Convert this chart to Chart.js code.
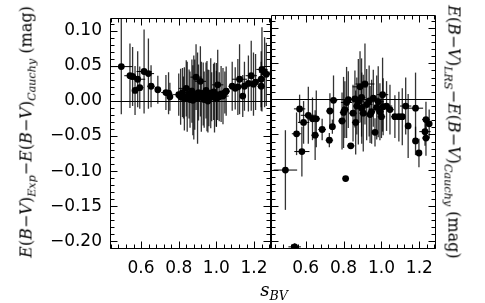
<!DOCTYPE html>
<html>
<head>
<meta charset="utf-8">
<script src="https://cdn.jsdelivr.net/npm/chart.js@4.4.0/dist/chart.umd.min.js"></script>
<style>
  body { margin: 0; background: #fff; }
  #wrap { position: relative; width: 485px; height: 303px; overflow: hidden; }
  canvas { position: absolute; left: 0; top: 0; }
  .lbl { position: absolute; font-family: "DejaVu Serif"; font-size: 16px; white-space: nowrap; color: #000; }
  .lbl i { font-style: italic; }
  .lbl sub { font-size: 70%; font-style: italic; vertical-align: -0.35em; line-height: 0; }
  #yl { left: 26px; top: 132px; transform: translate(-50%, -50%) rotate(-90deg); }
  #yr { left: 454px; top: 132px; transform: translate(-50%, -50%) rotate(90deg); }
  #xl { left: 274px; top: 289px; transform: translate(-50%, -50%); font-size: 18px; }
</style>
</head>
<body>
<div id="wrap">
  <canvas id="left" width="485" height="303"></canvas>
  <canvas id="right" width="485" height="303"></canvas>
  <div class="lbl" id="yl"><i>E</i>(<i>B</i>−<i>V</i>)<sub>Exp</sub>−<i>E</i>(<i>B</i>−<i>V</i>)<sub>Cauchy</sub> (mag)</div>
  <div class="lbl" id="yr"><i>E</i>(<i>B</i>−<i>V</i>)<sub>LRS</sub>−<i>E</i>(<i>B</i>−<i>V</i>)<sub>Cauchy</sub> (mag)</div>
  <div class="lbl" id="xl"><i>s</i><sub>BV</sub></div>
</div>
<script>
// tick labels
const xTicks = [0.6, 0.8, 1.0, 1.2];
const yTicks = [-0.20, -0.15, -0.10, -0.05, 0.00, 0.05, 0.10];

// left panel: Exp - Cauchy
const leftX = [0.495, 0.541, 0.555, 0.582, 0.568, 0.593, 0.616, 0.639, 0.653, 0.689, 0.732, 0.746, 0.753,
  0.800, 0.810, 0.820, 0.830, 0.840, 0.845, 0.855, 0.860, 0.870, 0.880, 0.885, 0.892, 0.900, 0.905, 0.915,
  0.920, 0.930, 0.935, 0.945, 0.950, 0.960, 0.970, 0.975, 0.985, 0.990, 1.000, 1.007, 1.015, 1.025, 1.035,
  1.045, 1.052, 0.825, 0.875, 0.955, 1.000, 1.084, 1.114, 1.123, 1.140, 1.149, 1.185, 1.197, 1.208, 1.242,
  1.256, 1.265, 1.238, 1.238, 1.100, 1.170];
const leftY = [0.049, 0.036, 0.035, 0.031, 0.015, 0.019, 0.042, 0.039, 0.021, 0.016, 0.012, 0.011, 0.006,
  0.009, 0.006, 0.012, 0.003, 0.018, 0.006, 0.010, 0.002, 0.014, 0.005, 0.009, 0.034, 0.004, 0.012, 0.028,
  0.006, 0.010, 0.002, 0.015, 0.007, 0.004, 0.011, 0.006, 0.013, 0.005, 0.009, 0.023, 0.006, 0.010, 0.007,
  0.012, 0.014, 0.005, 0.001, 0.000, 0.003, 0.021, 0.020, 0.031, 0.007, 0.021, 0.036, 0.024, 0.027, 0.045,
  0.041, 0.038, 0.031, 0.021, 0.018, 0.025];
const leftXErr = [0.060, 0.030, 0.020, 0.040, 0.015, 0.020, 0.040, 0.030, 0.020, 0.015, 0.025, 0.020, 0.015,
  0.030, 0.020, 0.030, 0.020, 0.040, 0.020, 0.030, 0.015, 0.030, 0.020, 0.020, 0.030, 0.020, 0.040, 0.030,
  0.020, 0.030, 0.020, 0.030, 0.020, 0.020, 0.030, 0.020, 0.020, 0.020, 0.030, 0.030, 0.020, 0.020, 0.030,
  0.020, 0.020, 0.020, 0.020, 0.020, 0.020, 0.020, 0.030, 0.040, 0.015, 0.020, 0.030, 0.020, 0.020, 0.030,
  0.030, 0.020, 0.020, 0.020, 0.020, 0.030];
const leftYErr = [0.068, 0.046, 0.042, 0.040, 0.035, 0.030, 0.060, 0.050, 0.030, 0.020, 0.025, 0.030, 0.020,
  0.030, 0.040, 0.035, 0.045, 0.040, 0.050, 0.035, 0.040, 0.045, 0.060, 0.050, 0.047, 0.065, 0.040, 0.050,
  0.050, 0.045, 0.040, 0.040, 0.050, 0.040, 0.050, 0.035, 0.040, 0.050, 0.045, 0.050, 0.035, 0.040, 0.040,
  0.030, 0.035, 0.030, 0.050, 0.045, 0.040, 0.035, 0.040, 0.050, 0.030, 0.035, 0.050, 0.045, 0.040, 0.060,
  0.050, 0.045, 0.040, 0.035, 0.030, 0.040];

// right panel: LRS - Cauchy
const rightX = [0.493, 0.542, 0.568, 0.552, 0.589, 0.580, 0.614, 0.636, 0.656, 0.650, 0.687, 0.725, 0.728,
  0.741, 0.747, 0.792, 0.800, 0.811, 0.838, 0.807, 0.816, 0.825, 0.864, 0.887, 0.913, 0.878, 0.896, 0.904,
  0.922, 0.948, 0.957, 0.966, 0.983, 0.992, 1.006, 1.009, 1.027, 1.045, 1.071, 1.092, 1.110, 1.128, 1.141,
  1.180, 1.180, 1.198, 1.235, 1.252, 1.230, 1.235, 0.870, 0.935, 0.975, 0.860, 0.940, 0.895, 1.000, 0.850];
const rightY = [-0.100, -0.208, -0.014, -0.049, -0.033, -0.074, -0.023, -0.028, -0.028, -0.051, -0.043, -0.058, -0.017,
  -0.039, -0.002, -0.031, -0.019, -0.112, -0.066, -0.015, -0.005, -0.001, -0.033, 0.017, 0.021, -0.004, -0.013, -0.020,
  -0.008, -0.018, 0.001, -0.047, -0.004, -0.018, 0.006, -0.011, -0.010, -0.015, -0.025, -0.025, -0.025, -0.010, -0.038,
  -0.013, -0.059, -0.076, -0.029, -0.035, -0.046, -0.055, -0.010, -0.003, -0.012, 0.000, -0.022, 0.002, -0.025, -0.020];
const rightXErr = [0.062, 0.033, 0.030, 0.025, 0.030, 0.040, 0.040, 0.030, 0.020, 0.020, 0.020, 0.020, 0.020,
  0.015, 0.020, 0.020, 0.020, 0.015, 0.020, 0.020, 0.030, 0.020, 0.020, 0.040, 0.050, 0.030, 0.020, 0.020,
  0.030, 0.020, 0.030, 0.015, 0.030, 0.020, 0.030, 0.020, 0.030, 0.020, 0.020, 0.020, 0.015, 0.030, 0.015,
  0.040, 0.015, 0.015, 0.020, 0.015, 0.030, 0.020, 0.020, 0.020, 0.020, 0.030, 0.020, 0.020, 0.020, 0.020];
const rightYErr = [0.056, 0.005, 0.020, 0.030, 0.030, 0.035, 0.040, 0.030, 0.040, 0.035, 0.015, 0.010, 0.025,
  0.010, 0.035, 0.040, 0.050, 0.003, 0.003, 0.040, 0.050, 0.040, 0.045, 0.050, 0.057, 0.060, 0.050, 0.054,
  0.050, 0.045, 0.040, 0.020, 0.050, 0.040, 0.052, 0.040, 0.035, 0.035, 0.030, 0.035, 0.040, 0.040, 0.045,
  0.050, 0.020, 0.020, 0.025, 0.020, 0.020, 0.025, 0.040, 0.050, 0.045, 0.040, 0.040, 0.055, 0.030, 0.040];

const fmt = d => v => (v < 0 ? '−' : '') + Math.abs(v).toFixed(d);

// frame, inward ticks (major + minor) and the zero line
const framePlugin = {
  id: 'frame',
  afterDraw(chart) {
    const { ctx, chartArea: a, scales: { x, y } } = chart;
    const L = Math.round(a.left) + 0.5, R = Math.round(a.right) - 0.5;
    const T = Math.round(a.top) + 0.5, B = Math.round(a.bottom) - 0.5;
    ctx.save();
    ctx.strokeStyle = '#000';
    ctx.lineWidth = 1;
    ctx.beginPath();
    const xt = (v, len) => {
      const p = Math.round(x.getPixelForValue(v)) + 0.5;
      ctx.moveTo(p, B); ctx.lineTo(p, B - len);
      ctx.moveTo(p, T); ctx.lineTo(p, T + len);
    };
    const yt = (v, len) => {
      const p = Math.round(y.getPixelForValue(v)) + 0.5;
      ctx.moveTo(L, p); ctx.lineTo(L + len, p);
      ctx.moveTo(R, p); ctx.lineTo(R - len, p);
    };
    for (let i = Math.ceil(x.min / 0.04); i * 0.04 <= x.max; i++) xt(i * 0.04, i % 5 === 0 ? 7 : 4);
    for (let i = Math.ceil(y.min / 0.01); i * 0.01 <= y.max; i++) yt(i * 0.01, i % 5 === 0 ? 7 : 4);
    const z = Math.round(y.getPixelForValue(0)) + 0.5;
    ctx.moveTo(L, z); ctx.lineTo(R, z);
    ctx.rect(L, T, R - L, B - T);
    ctx.stroke();
    ctx.restore();
  }
};

// x and y error bars, drawn under the markers
const errorPlugin = {
  id: 'errbars',
  beforeDatasetsDraw(chart) {
    const { ctx, chartArea: a, scales: { x, y } } = chart;
    ctx.save();
    ctx.beginPath();
    ctx.rect(a.left, a.top, a.right - a.left, a.bottom - a.top);
    ctx.clip();
    chart.data.datasets.forEach(ds => {
      ds.data.forEach((p, i) => {
        const px = x.getPixelForValue(p.x), py = y.getPixelForValue(p.y);
        ctx.strokeStyle = 'rgba(0,0,0,0.8)';
        ctx.lineWidth = 1.3;
        ctx.beginPath();
        ctx.moveTo(px, y.getPixelForValue(p.y + ds.yErr[i]));
        ctx.lineTo(px, y.getPixelForValue(p.y - ds.yErr[i]));
        ctx.stroke();
        ctx.strokeStyle = '#000';
        ctx.lineWidth = 1;
        ctx.beginPath();
        ctx.moveTo(x.getPixelForValue(p.x - ds.xErr[i]), py);
        ctx.lineTo(x.getPixelForValue(p.x + ds.xErr[i]), py);
        ctx.stroke();
      });
    });
    ctx.restore();
  }
};

function makePanel(id, xs, ys, xErr, yErr, xMin, xMax, padLeft, padRight, showY) {
  return new Chart(document.getElementById(id), {
    type: 'scatter',
    data: {
      datasets: [{
        data: xs.map((v, i) => ({ x: v, y: ys[i] })),
        xErr: xErr,
        yErr: yErr,
        pointRadius: 3.4,
        pointBackgroundColor: '#000',
        pointBorderWidth: 0
      }]
    },
    options: {
      responsive: false,
      animation: false,
      devicePixelRatio: 1,
      layout: { padding: { left: padLeft, right: padRight, top: 15, bottom: 0 } },
      plugins: { legend: { display: false }, tooltip: { enabled: false } },
      scales: {
        x: {
          type: 'linear', min: xMin, max: xMax,
          afterBuildTicks: s => { s.ticks = xTicks.map(v => ({ value: v })); },
          afterFit: s => { s.height = 54; },
          grid: { display: false, drawTicks: false },
          border: { display: false },
          ticks: { padding: 9, maxRotation: 0, color: '#000', font: { family: 'DejaVu Sans', size: 17 }, callback: fmt(1) }
        },
        y: {
          type: 'linear', min: -0.211, max: 0.118,
          display: showY,
          afterBuildTicks: s => { s.ticks = yTicks.map(v => ({ value: v })); },
          afterFit: s => { s.width = showY ? 110 : 0; },
          grid: { display: false, drawTicks: false },
          border: { display: false },
          ticks: { padding: 8, color: '#000', font: { family: 'DejaVu Sans', size: 17 }, callback: fmt(2) }
        }
      }
    },
    plugins: [errorPlugin, framePlugin]
  });
}

makePanel('left', leftX, leftY, leftXErr, leftYErr, 0.435, 1.29, 0, 485 - 271, true);
makePanel('right', rightX, rightY, rightXErr, rightYErr, 0.417, 1.288, 271, 485 - 436, false);
</script>
</body>
</html>
